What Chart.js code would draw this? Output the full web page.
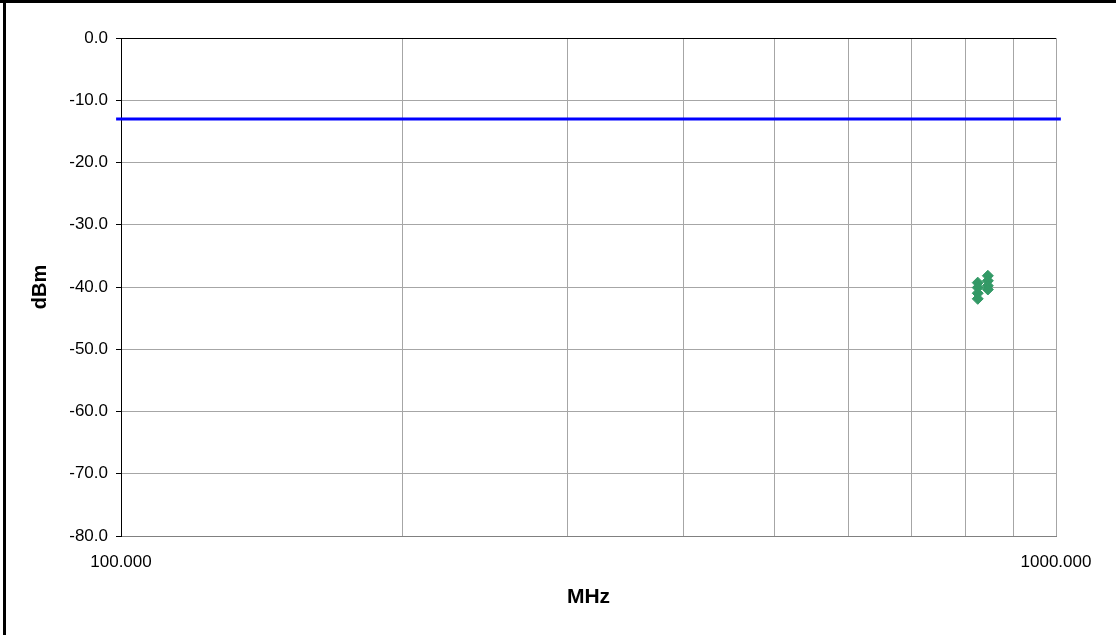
<!DOCTYPE html>
<html>
<head>
<meta charset="utf-8">
<script src="https://cdn.jsdelivr.net/npm/chart.js@4/dist/chart.umd.min.js"></script>
<style>
  html, body { margin: 0; padding: 0; background: #fff; }
  #wrap { position: absolute; left: 0; top: 0; width: 1116px; height: 635px; }
</style>
</head>
<body>
<div id="wrap"><canvas id="spurious" width="1116" height="635"></canvas></div>
<script>
// measured emissions (MHz / dBm)
const emFreq = [824.7, 824.7, 824.7, 824.7, 845.5, 845.5, 845.5, 845.5];
const emLevel = [-39.3, -40.1, -41.0, -41.9, -38.2, -39.0, -39.8, -40.4];

// limit line, -13 dBm
const limitFreq = [98.8, 1012];
const limitLevel = [-13, -13];

const xTicks = [100, 200, 300, 400, 500, 600, 700, 800, 900, 1000];
const xLabels = [100, 1000];
const yMin = -80, yMax = 0, yStep = 10;

const fam = '"Liberation Sans", Arial, sans-serif';

const frame = {
    id: 'frame',
    beforeDraw(chart) {
        const c = chart.ctx;
        c.save();
        c.fillStyle = '#fff';
        c.fillRect(0, 0, chart.width, chart.height);
        c.fillStyle = '#000';
        c.fillRect(0, 0, chart.width, 3);
        c.fillRect(3, 0, 3, chart.height);
        c.restore();
    }
};

var ctx = document.getElementById('spurious').getContext('2d');
var myChart = new Chart(ctx, {
    type: 'scatter',
    data: {
        datasets: [{
            type: 'line',
            data: limitFreq.map((f, i) => ({x: f, y: limitLevel[i]})),
            borderColor: '#0000ff',
            borderWidth: 3,
            pointRadius: 0,
            clip: false,
            order: 2
        }, {
            data: emFreq.map((f, i) => ({x: f, y: emLevel[i]})),
            pointStyle: 'rectRot',
            pointRadius: 5.5,
            backgroundColor: '#339966',
            borderColor: '#339966',
            borderWidth: 1,
            order: 1
        }]
    },
    options: {
        responsive: false,
        maintainAspectRatio: false,
        animation: false,
        layout: { padding: { left: 0, top: 38, right: 60, bottom: 0 } },
        plugins: {
            legend: { display: false },
            tooltip: { enabled: false }
        },
        scales: {
            x: {
                type: 'logarithmic',
                min: 100,
                max: 1000,
                afterBuildTicks: function (scale) {
                    scale.ticks = xTicks.map(v => ({value: v}));
                },
                afterFit: function (scale) { scale.height = 99; },
                ticks: {
                    autoSkip: false,
                    maxRotation: 0,
                    padding: 16,
                    color: '#000',
                    font: { family: fam, size: 17 },
                    callback: function (v) {
                        return xLabels.includes(v) ? v.toFixed(3) : '';
                    }
                },
                grid: { color: '#a6a6a6', drawTicks: false },
                border: { color: '#808080' },
                title: {
                    display: true,
                    text: 'MHz',
                    color: '#000',
                    font: { family: fam, size: 21, weight: 'bold' },
                    padding: { top: 0, bottom: 25 }
                }
            },
            y: {
                min: yMin,
                max: yMax,
                afterFit: function (scale) { scale.width = 121; },
                ticks: {
                    stepSize: yStep,
                    padding: 8,
                    color: '#000',
                    font: { family: fam, size: 17 },
                    callback: function (v) { return v.toFixed(1); }
                },
                grid: {
                    color: c => (c.tick && c.tick.value === 0) ? '#000' : '#a6a6a6',
                    tickColor: '#000',
                    tickLength: 5
                },
                border: { color: '#000' },
                title: {
                    display: true,
                    text: 'dBm',
                    color: '#000',
                    font: { family: fam, size: 20, weight: 'bold' },
                    padding: { top: 28, bottom: 0 }
                }
            }
        }
    },
    plugins: [frame]
});
</script>
</body>
</html>
